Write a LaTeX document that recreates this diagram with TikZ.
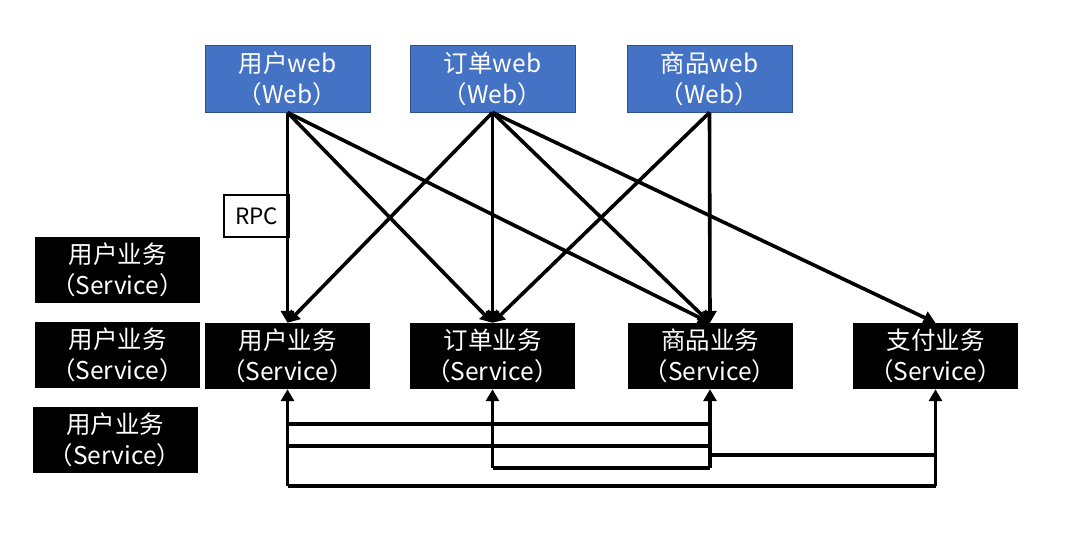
\documentclass[tikz,border=0pt]{standalone}
\usepackage{fontspec}
\setmainfont{Noto Sans CJK SC}
\usetikzlibrary{arrows.meta}
\definecolor{webblue}{HTML}{4472C4}
\definecolor{webedge}{HTML}{2F528F}
\tikzset{
  webbox/.style={rectangle, fill=webblue, draw=webedge, line width=1pt, text=white,
    minimum width=165pt, minimum height=67pt, inner sep=0pt, align=center,
    font=\fontsize{24.5}{31}\selectfont},
  svcbox/.style={rectangle, fill=black, text=white,
    minimum width=165pt, minimum height=66pt, inner sep=0pt, align=center,
    font=\fontsize{24.5}{31}\selectfont},
  rpcbox/.style={rectangle, fill=white, draw=black, line width=2pt,
    minimum width=65pt, minimum height=42pt, inner sep=0pt,
    font=\fontsize{22.5}{24}\selectfont},
  link/.style={line width=3.6pt, draw=black},
  arr/.style={link, -{Triangle[length=12pt,width=13pt]}},
}
\begin{document}
\begin{tikzpicture}[x=1pt,y=-1pt]
\useasboundingbox (0,0) rectangle (1090,550);
% web tier
\node[webbox] (web1) at (287.5,78.5) {用户web\\（Web）};
\node[webbox] (web2) at (492.5,78.5) {订单web\\（Web）};
\node[webbox] (web3) at (709.5,78.5) {商品web\\（Web）};
% service tier
\node[svcbox] (svc1) at (287.5,356) {用户业务\\（Service）};
\node[svcbox] (svc2) at (492.5,356) {订单业务\\（Service）};
\node[svcbox] (svc3) at (710,356) {商品业务\\（Service）};
\node[svcbox] (svc4) at (935.5,356) {支付业务\\（Service）};
% left replicas
\node[svcbox] (left1) at (117.5,270) {用户业务\\（Service）};
\node[svcbox] (left2) at (117.5,355) {用户业务\\（Service）};
\node[svcbox] (left3) at (115,440) {用户业务\\（Service）};
% RPC label
\node[rpcbox] (rpc) at (256.5,216) {RPC};
% web -> service
\draw[arr] (web1.south) -- (svc1.north);
\draw[arr] (web1.south) -- (svc2.north);
\draw[arr] (web1.south) -- (svc3.north);
\draw[arr] (web2.south) -- (svc1.north);
\draw[arr] (web2.south) -- (svc2.north);
\draw[arr] (web2.south) -- (svc3.north);
\draw[arr] (web2.south) -- (svc4.north);
\draw[arr] (web3.south) -- (svc2.north);
\draw[arr] (web3.south) -- (svc3.north);
% service <-> service bus
\coordinate (b1) at (svc1.south |- 0,486);
\coordinate (b4) at (svc4.south |- 0,486);
\coordinate (b2) at (svc2.south |- 0,468);
\coordinate (b3) at (svc3.south |- 0,468);
\coordinate (h1a) at (svc1.south |- 0,424);
\coordinate (h1b) at (svc3.south |- 0,424);
\coordinate (h2a) at (svc1.south |- 0,446);
\coordinate (h2b) at (svc3.south |- 0,446);
\coordinate (h3a) at (svc3.south |- 0,455);
\coordinate (h3b) at (svc4.south |- 0,455);
\draw[arr] (b1) -- (svc1.south);
\draw[arr] (b2) -- (svc2.south);
\draw[arr] (b3) -- (svc3.south);
\draw[arr] (b4) -- (svc4.south);
\draw[link] (b1) -- (b4);
\draw[link] (b2) -- (b3);
\draw[link] (h1a) -- (h1b);
\draw[link] (h2a) -- (h2b);
\draw[link] (h3a) -- (h3b);
\end{tikzpicture}
\end{document}
